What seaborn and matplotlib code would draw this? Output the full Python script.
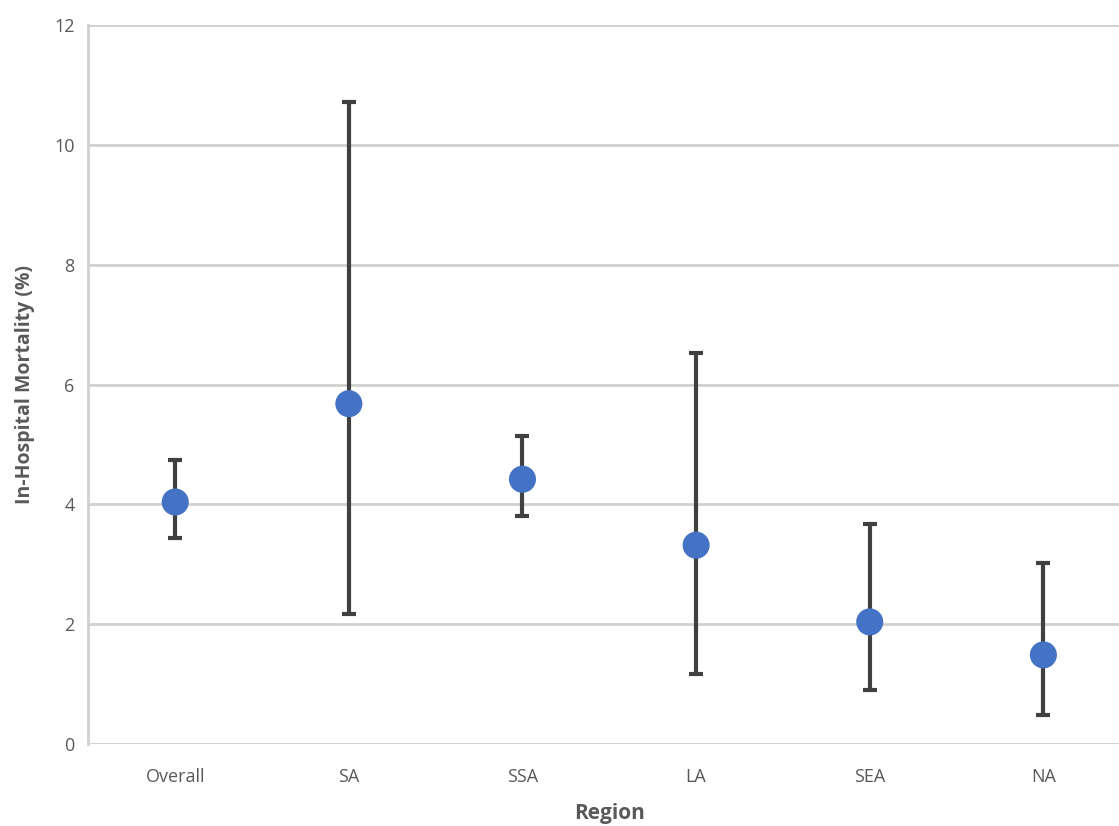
import numpy as np
import pandas as pd
import matplotlib
matplotlib.use('Agg')
import matplotlib.pyplot as plt
import seaborn as sns

regions = ['Overall', 'SA', 'SSA', 'LA', 'SEA', 'NA']
mortality = [4.04, 5.68, 4.42, 3.32, 2.04, 1.49]
ci_low = [3.44, 2.17, 3.81, 1.17, 0.90, 0.48]
ci_high = [4.74, 10.72, 5.14, 6.53, 3.67, 3.02]

df = pd.DataFrame({'Region': regions, 'Mortality': mortality})

sns.set_style('white')
plt.rcParams['font.family'] = ['Open Sans', 'DejaVu Sans']

fig = plt.figure(figsize=(11.19, 8.26), dpi=100)
# axes run slightly past the right edge of the image, as in the reference
ax = fig.add_axes([0.079, 0.099, 0.931, 0.871])

x = np.arange(len(regions))
err = [np.array(mortality) - np.array(ci_low), np.array(ci_high) - np.array(mortality)]
ax.errorbar(x, mortality, yerr=err, fmt='none', ecolor='#404040', elinewidth=3,
            capsize=5, capthick=3, zorder=2)
sns.scatterplot(data=df, x='Region', y='Mortality', color='#4472C4', s=380,
                edgecolor='none', ax=ax, zorder=3)

ax.set_ylim(0, 12)
ax.set_xlim(-0.5, len(regions) - 0.5)
ax.set_yticks(range(0, 13, 2))
ax.yaxis.grid(True, color='#d0d0d0', linewidth=2)
ax.set_axisbelow(True)
for s in ['top', 'right', 'bottom']:
    ax.spines[s].set_visible(False)
ax.spines['left'].set_color('#d0d0d0')
ax.spines['left'].set_linewidth(2)
ax.tick_params(axis='both', length=0, labelsize=13, colors='#595959', pad=10)
ax.tick_params(axis='x', pad=17)
ax.set_xlabel('Region', fontsize=15, fontweight='bold', color='#595959', labelpad=12)
ax.set_ylabel('In-Hospital Mortality (%)', fontsize=14, fontweight='bold', color='#595959', labelpad=14)

fig.savefig('out.png', dpi=100)
